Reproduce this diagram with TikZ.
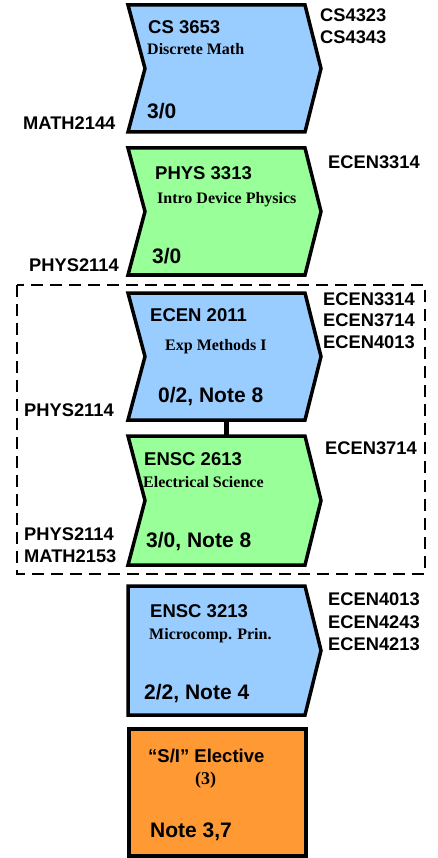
\documentclass[tikz,border=0pt]{standalone}
\usepackage{fontspec}
\setmainfont{Liberation Sans}
\newfontfamily\titlefont{Liberation Serif}
\usepackage{tikz}
\definecolor{courseblue}{RGB}{153,204,255}
\definecolor{coursegreen}{RGB}{153,255,153}
\definecolor{courseorange}{RGB}{255,153,51}

\begin{document}
\begin{tikzpicture}[x=1pt, y=-1pt,
				box/.style={draw=black, line width=3.5pt, line join=miter},
				code/.style={anchor=base west, inner sep=0pt, font=\bfseries\fontsize{18.5}{20}\selectfont},
				title/.style={anchor=base west, inner sep=0pt, font=\titlefont\bfseries\fontsize{16}{18}\selectfont},
				credit/.style={anchor=base west, inner sep=0pt, font=\bfseries\fontsize{21}{24}\selectfont},
				tag/.style={anchor=base west, inner sep=0pt, font=\bfseries\fontsize{18.3}{20}\selectfont}]
				\useasboundingbox (0,0) rectangle (438,858);
				% group frame
				\draw[line width=2pt, dash pattern=on 12pt off 7pt] (17,285) rectangle (425,574);
				% link between the two group courses
				\coordinate (exp-bot) at (226,420);
				\coordinate (elec-top) at (226,436);
				\draw[line width=5pt] (exp-bot) -- (elec-top);
				% course shapes
				\draw[box, fill=courseblue] (128,5) -- (305,5) -- (321,68.5) -- (305,132) -- (128,132) -- (145,68.5) -- cycle;
				\draw[box, fill=coursegreen] (128,148) -- (305,148) -- (321,211.5) -- (305,275) -- (128,275) -- (145,211.5) -- cycle;
				\draw[box, fill=courseblue] (128,293) -- (305,293) -- (321,356.5) -- (305,420) -- (128,420) -- (145,356.5) -- cycle;
				\draw[box, fill=coursegreen] (128,436) -- (305,436) -- (321,500.5) -- (305,565) -- (128,565) -- (145,500.5) -- cycle;
				\draw[box, fill=courseblue] (128,586) -- (305,586) -- (321,650.5) -- (305,715) -- (128,715) -- cycle;
				\draw[box, fill=courseorange] (129,729) rectangle (306,856);
				% CS 3653
				\node at (148,33.3) (cs-code) [code] {CS 3653};
				\node at (147,55) (cs-title) [title] {Discrete Math};
				\node at (147,119) (cs-credit) [credit] {3/0};
				\node at (320,21.7) (cs-next1) [tag] {CS4323};
				\node at (320,43.3) (cs-next2) [tag] {CS4343};
				\node at (23,129.3) (cs-pre) [tag] {MATH2144};
				% PHYS 3313
				\node at (155,179.3) (phys-code) [code] {PHYS 3313};
				\node at (157,204) (phys-title) [title] {Intro Device Physics};
				\node at (152,263.3) (phys-credit) [credit] {3/0};
				\node at (328,168.3) (phys-next) [tag] {ECEN3314};
				\node at (29,271.7) (phys-pre) [tag] {PHYS2114};
				% ECEN 2011
				\node at (150,321) (exp-code) [code] {ECEN 2011};
				\node at (165,350.7) (exp-title) [title] {Exp Methods I};
				\node at (158,402.7) (exp-credit) [credit] {0/2, Note 8};
				\node at (323,305) (exp-next1) [tag] {ECEN3314};
				\node at (323,326.7) (exp-next2) [tag] {ECEN3714};
				\node at (323,348.3) (exp-next3) [tag] {ECEN4013};
				\node at (24,416.7) (exp-pre) [tag] {PHYS2114};
				% ENSC 2613
				\node at (144,465.7) (elec-code) [code] {ENSC 2613};
				\node at (143,487.3) (elec-title) [title] {Electrical Science};
				\node at (146,547.7) (elec-credit) [credit] {3/0, Note 8};
				\node at (325,454.3) (elec-next) [tag] {ECEN3714};
				\node at (24,540.7) (elec-pre1) [tag] {PHYS2114};
				\node at (24,562.7) (elec-pre2) [tag] {MATH2153};
				% ENSC 3213
				\node at (150,617.3) (micro-code) [code] {ENSC 3213};
				\node at (149,639) (micro-title) [title] {Microcomp. Prin.};
				\node at (144,699.3) (micro-credit) [credit] {2/2, Note 4};
				\node at (328,605) (micro-next1) [tag] {ECEN4013};
				\node at (328,628.3) (micro-next2) [tag] {ECEN4243};
				\node at (328,650) (micro-next3) [tag] {ECEN4213};
				% S/I elective
				\node at (148,762.7) (elect-code) [code] {“S/I” Elective};
				\node at (195,784) (elect-title) [title, font=\titlefont\bfseries\fontsize{18}{20}\selectfont] {(3)};
				\node at (150,837.7) (elect-credit) [credit] {Note 3,7};
			\end{tikzpicture}
\end{document}
